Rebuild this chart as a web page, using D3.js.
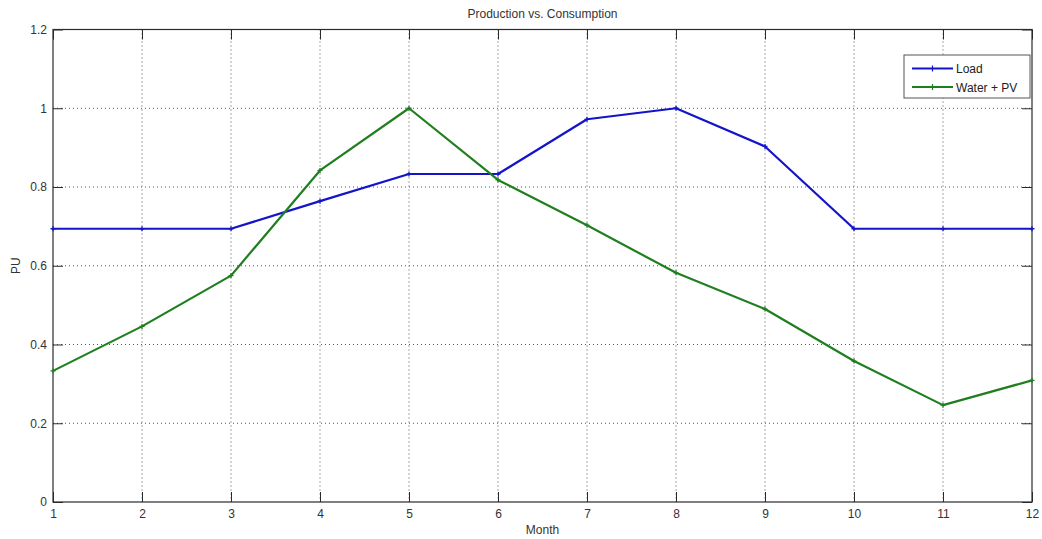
<!DOCTYPE html>
<html lang="en">
  <head>
    <meta charset="UTF-8" />
    <title>Production vs. Consumption</title>
    <style>
      html,
      body {
        margin: 0;
        background: #fff;
      }
      svg {
        display: block;
        font-family: Arial, "Liberation Sans", Helvetica, sans-serif;
      }
    </style>
    <script src="https://cdn.jsdelivr.net/npm/d3@7"></script>
  </head>

  <body>
    <script>
      // data
      const months = [1, 2, 3, 4, 5, 6, 7, 8, 9, 10, 11, 12];
      const load = [0.694, 0.694, 0.694, 0.764, 0.833, 0.833, 0.972, 1.0, 0.903, 0.694, 0.694, 0.694];
      const waterPV = [0.333, 0.446, 0.575, 0.842, 1.0, 0.818, 0.703, 0.582, 0.49, 0.358, 0.246, 0.309];
      const yTicks = [0, 0.2, 0.4, 0.6, 0.8, 1, 1.2];
      const seriesNames = ["Load", "Water + PV"];

      const width = 1042;
      const height = 539;
      const margin = { left: 53, right: 10, top: 29.5, bottom: 37 };

      const svg = d3
        .select("body")
        .append("svg")
        .attr("width", width)
        .attr("height", height);

      const x = d3
        .scaleLinear()
        .domain([1, 12])
        .range([margin.left, width - margin.right]);
      const y = d3
        .scaleLinear()
        .domain([0, 1.2])
        .range([height - margin.bottom, margin.top]);

      const x0 = margin.left, x1 = width - margin.right;
      const y0 = height - margin.bottom, y1 = margin.top;
      const axisColor = "#2b2b2b";

      // grid (dotted)
      const grid = svg.append("g").attr("stroke", "#555").attr("stroke-dasharray", "1,3");
      grid
        .selectAll(".gx")
        .data(months.slice(1, -1))
        .join("line")
        .attr("x1", (d) => x(d))
        .attr("x2", (d) => x(d))
        .attr("y1", y1)
        .attr("y2", y0);
      grid
        .selectAll(".gy")
        .data(yTicks.slice(1, -1))
        .join("line")
        .attr("x1", x0)
        .attr("x2", x1)
        .attr("y1", (d) => y(d))
        .attr("y2", (d) => y(d));

      // axes, ticks inside
      const fmt = (d) => (d === 0 ? "0" : d3.format("~g")(d));
      const styleAxis = (g) => {
        g.select(".domain").remove();
        g.selectAll("line").attr("stroke", axisColor);
        g.selectAll("text").attr("fill", "#333").attr("font-size", 12);
      };
      svg
        .append("g")
        .attr("transform", `translate(0,${y0})`)
        .call(d3.axisBottom(x).tickValues(months).tickSizeInner(-10).tickPadding(7).tickFormat(d3.format("d")))
        .call(styleAxis);
      svg
        .append("g")
        .attr("transform", `translate(0,${y1})`)
        .call(d3.axisTop(x).tickValues(months).tickSizeInner(-10).tickFormat(""))
        .call(styleAxis);
      svg
        .append("g")
        .attr("transform", `translate(${x0},0)`)
        .call(d3.axisLeft(y).tickValues(yTicks).tickSizeInner(-10).tickPadding(6).tickFormat(fmt))
        .call(styleAxis);
      svg
        .append("g")
        .attr("transform", `translate(${x1},0)`)
        .call(d3.axisRight(y).tickValues(yTicks).tickSizeInner(-10).tickFormat(""))
        .call(styleAxis);

      // box
      svg
        .append("rect")
        .attr("x", x0)
        .attr("y", y1)
        .attr("width", x1 - x0)
        .attr("height", y0 - y1)
        .attr("fill", "none")
        .attr("stroke", axisColor)
        .attr("stroke-width", 1.2);

      // lines
      const series = [
        { name: seriesNames[0], values: load, color: "#1414c8" },
        { name: seriesNames[1], values: waterPV, color: "#1f7f1f" },
      ];
      const line = d3
        .line()
        .x((d, i) => x(months[i]))
        .y((d) => y(d));

      series.forEach((s) => {
        svg
          .append("path")
          .datum(s.values)
          .attr("d", line)
          .attr("fill", "none")
          .attr("stroke", s.color)
          .attr("stroke-width", 2.2)
          .attr("stroke-linejoin", "round");
        svg
          .selectAll(null)
          .data(s.values)
          .join("path")
          .attr("d", (d, i) => {
            const cx = x(months[i]), cy = y(d);
            return `M${cx - 2.5},${cy}H${cx + 2.5}M${cx},${cy - 2.5}V${cy + 2.5}`;
          })
          .attr("stroke", s.color)
          .attr("stroke-width", 1.3);
      });

      // title and labels
      svg
        .append("text")
        .attr("x", (x0 + x1) / 2)
        .attr("y", 18)
        .attr("text-anchor", "middle")
        .attr("font-size", 12)
        .attr("fill", "#333")
        .text("Production vs. Consumption");
      svg
        .append("text")
        .attr("x", (x0 + x1) / 2)
        .attr("y", 534)
        .attr("text-anchor", "middle")
        .attr("font-size", 12)
        .attr("fill", "#333")
        .text("Month");
      svg
        .append("text")
        .attr("transform", `translate(20,${(y0 + y1) / 2}) rotate(-90)`)
        .attr("text-anchor", "middle")
        .attr("font-size", 12)
        .attr("fill", "#333")
        .text("PU");

      // legend
      const lg = svg.append("g").attr("transform", "translate(904,55)");
      lg.append("rect")
        .attr("width", 126)
        .attr("height", 43)
        .attr("fill", "#fff")
        .attr("stroke", "#555");
      series.forEach((s, i) => {
        const ly = 13.5 + i * 18.5;
        lg.append("line")
          .attr("x1", 8)
          .attr("x2", 49)
          .attr("y1", ly)
          .attr("y2", ly)
          .attr("stroke", s.color)
          .attr("stroke-width", 2);
        lg.append("path")
          .attr("d", `M25.5,${ly}H31.5M28.5,${ly - 3}V${ly + 3}`)
          .attr("stroke", s.color)
          .attr("stroke-width", 1.2);
        lg.append("text")
          .attr("x", 52)
          .attr("y", ly + 4.5)
          .attr("font-size", 12)
          .attr("fill", "#222")
          .text(s.name);
      });
    </script>
  </body>
</html>
